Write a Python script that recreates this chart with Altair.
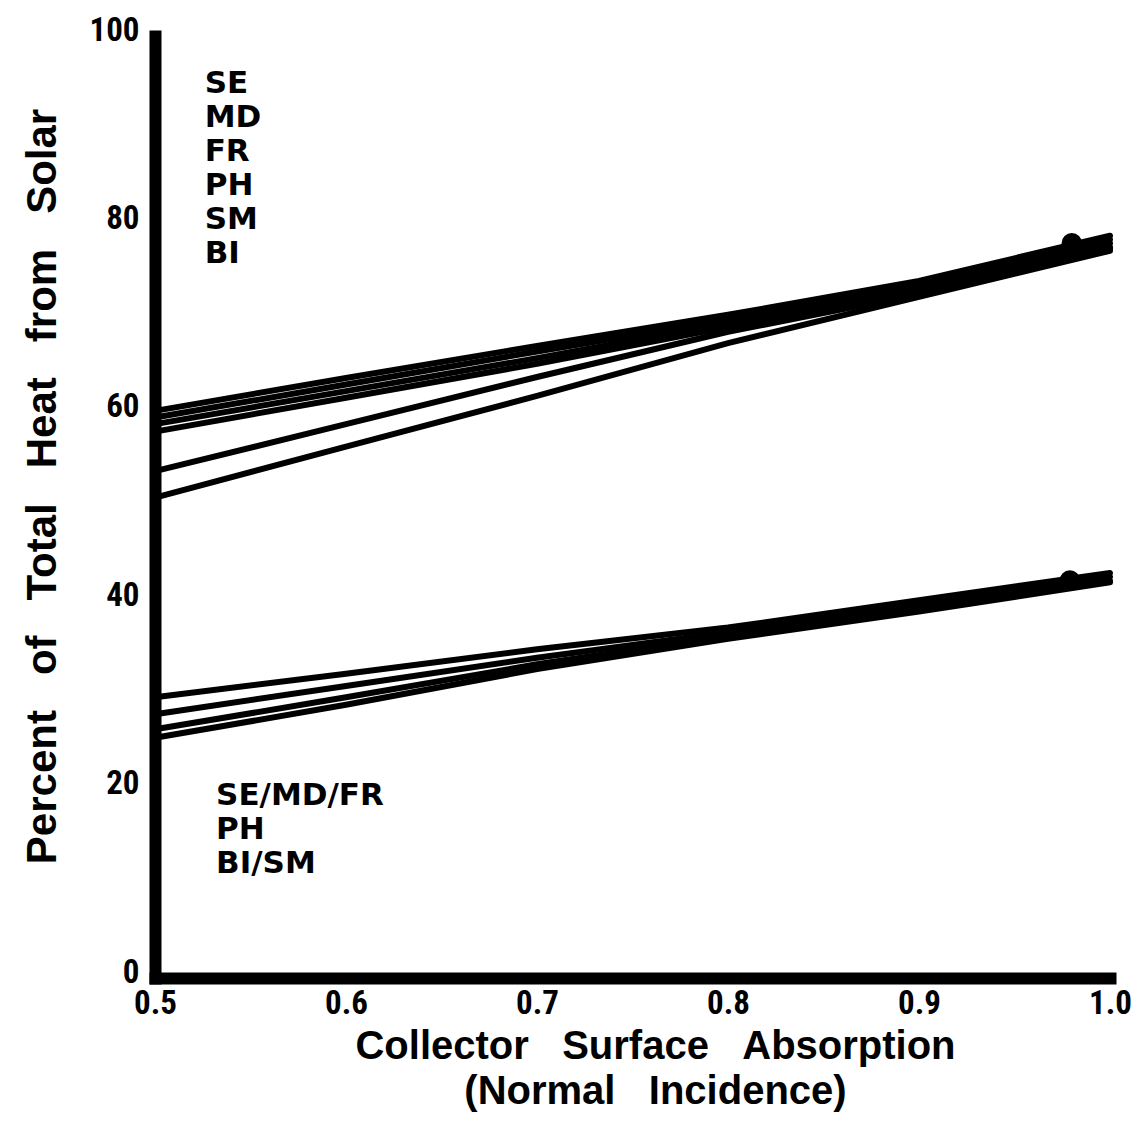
import altair as alt
import pandas as pd

# x positions (collector surface absorption)
absorption = [0.5, 0.6, 0.7, 0.8, 0.9, 1.0]

# upper family of curves
upper_SE = [60.2, 63.7, 67.1, 70.4, 74.0, 78.8]
upper_MD = [59.5, 63.0, 66.5, 69.9, 73.5, 78.4]
upper_FR = [58.8, 62.3, 65.8, 69.5, 73.0, 78.0]
upper_PH = [58.0, 61.6, 65.2, 69.1, 72.6, 77.6]
upper_SM = [53.8, 58.8, 63.8, 68.6, 72.6, 77.4]
upper_BI = [51.0, 56.4, 61.8, 67.4, 72.3, 77.2]

# lower family of curves
lower_SEMDFR = [29.8, 32.3, 34.9, 37.2, 40.1, 43.0]
lower_PH = [28.0, 31.0, 34.0, 36.7, 39.6, 42.6]
lower_BI = [26.4, 29.8, 33.3, 36.3, 39.2, 42.2]
lower_SM = [25.5, 29.0, 32.8, 36.0, 38.9, 42.0]

# end markers
dot_x = [0.98, 0.979]
dot_y = [78.0, 42.2]

upper_labels = ["SE", "MD", "FR", "PH", "SM", "BI"]
lower_labels = ["SE/MD/FR", "PH", "BI/SM"]

x_ticks = [0.5, 0.6, 0.7, 0.8, 0.9, 1.0]
y_ticks = [0, 20, 40, 60, 80, 100]

series = {
    "upper SE": upper_SE, "upper MD": upper_MD, "upper FR": upper_FR,
    "upper PH": upper_PH, "upper SM": upper_SM, "upper BI": upper_BI,
    "lower SE/MD/FR": lower_SEMDFR, "lower PH": lower_PH,
    "lower BI": lower_BI, "lower SM": lower_SM,
}
rows = []
for name, vals in series.items():
    for xv, yv in zip(absorption, vals):
        rows.append({"series": name, "x": xv, "y": yv})
df = pd.DataFrame(rows)

NFONT = "Liberation Sans Narrow, Roboto Condensed, DejaVu Sans Condensed, Liberation Sans, Arial, sans-serif"
LFONT = "DejaVu Sans, Verdana, sans-serif"
TFONT = "Liberation Sans, Arial, sans-serif"

xscale = alt.Scale(domain=[0.5, 1.0], nice=False, zero=False)
yscale = alt.Scale(domain=[0, 100], nice=False)

common_axis = dict(
    domainColor="black", domainWidth=12, domainCap="square",
    ticks=False, grid=False,
    labelFont=NFONT, labelFontSize=33, labelFontWeight="bold", labelColor="black",
    titleColor="black", titleFont=TFONT, titleFontWeight="bold",
    labelFlush=False,
)

xaxis = alt.Axis(
    values=x_ticks, format=".1f",
    title=["Collector\u00a0\u00a0\u00a0Surface\u00a0\u00a0\u00a0Absorption",
           "(Normal\u00a0\u00a0\u00a0Incidence)"],
    titleFontSize=40,
    titleX=500, titleY=80, titleAlign="center", titleBaseline="alphabetic",
    titleLineHeight=45, labelPadding=9, **common_axis,
)
yaxis = alt.Axis(
    values=y_ticks,
    title="Percent\u00a0\u00a0\u00a0of\u00a0\u00a0\u00a0Total\u00a0\u00a0\u00a0Heat\u00a0\u00a0\u00a0from\u00a0\u00a0\u00a0Solar",
    titleFontSize=42,
    titleX=-113, titleY=450, titleAngle=-90, titleAlign="center",
    titleBaseline="middle", labelPadding=16, labelOffset=-6, **common_axis,
)

lines = alt.Chart(df).mark_line(color="black", strokeWidth=6, strokeCap="round").encode(
    x=alt.X("x:Q", scale=xscale, axis=xaxis),
    y=alt.Y("y:Q", scale=yscale, axis=yaxis),
    detail="series:N",
)

dots = alt.Chart(pd.DataFrame({"x": dot_x, "y": dot_y})).mark_circle(
    color="black", opacity=1, size=420
).encode(x=alt.X("x:Q", scale=xscale), y=alt.Y("y:Q", scale=yscale))

up_text = alt.Chart(pd.DataFrame({"t": ["\n".join(upper_labels)]})).mark_text(
    font=LFONT, fontSize=31, fontWeight="bold", align="left", baseline="top",
    lineBreak="\n", lineHeight=34, color="black",
).encode(x=alt.datum(0.526), y=alt.datum(96.5), text="t:N")

low_text = alt.Chart(pd.DataFrame({"t": ["\n".join(lower_labels)]})).mark_text(
    font=LFONT, fontSize=31, fontWeight="bold", align="left", baseline="top",
    lineBreak="\n", lineHeight=34, color="black",
).encode(x=alt.datum(0.532), y=alt.datum(20.9), text="t:N")

chart = alt.layer(lines, dots, up_text, low_text).properties(
    width=955, height=942,
    background="white",
    autosize=alt.AutoSizeParams(type="none"),
    padding={"left": 147, "top": 28, "right": 22, "bottom": 137},
).configure_view(stroke=None)

chart.save("out.html", embed_options={"renderer": "svg", "actions": False})
